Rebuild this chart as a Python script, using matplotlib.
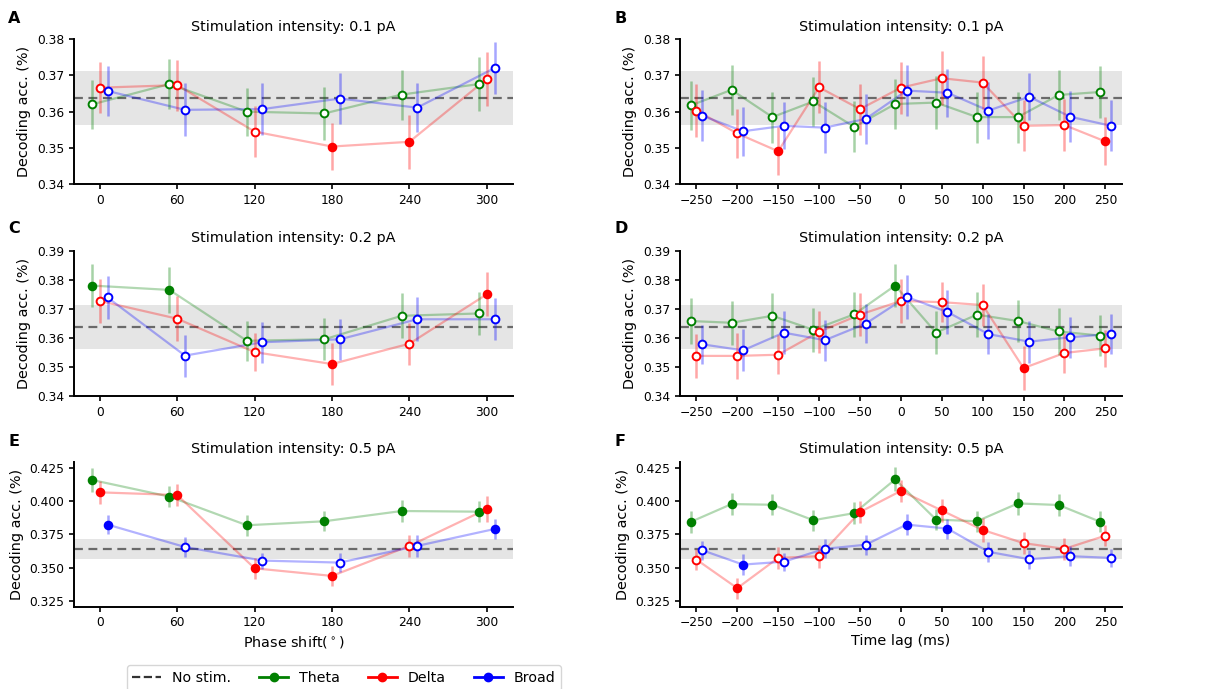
import matplotlib
matplotlib.use("Agg")
import matplotlib.pyplot as plt
from matplotlib.lines import Line2D
import numpy as np

# ---------------- data ----------------
phase_x = [0, 60, 120, 180, 240, 300]
lag_x = [-250, -200, -150, -100, -50, 0, 50, 100, 150, 200, 250]

nostim_mean = 0.3637
nostim_sd = 0.0075

# Panel A (phase, 0.1 pA)
A_theta = [0.3620, 0.3676, 0.3600, 0.3595, 0.3647, 0.3676]
A_delta = [0.3666, 0.3673, 0.3545, 0.3504, 0.3517, 0.3690]
A_broad = [0.3657, 0.3605, 0.3607, 0.3636, 0.3611, 0.3720]
A_theta_err = [0.0067, 0.0070, 0.0066, 0.0072, 0.0069, 0.0074]
A_delta_err = [0.0071, 0.0070, 0.0071, 0.0066, 0.0075, 0.0074]
A_broad_err = [0.0070, 0.0073, 0.0071, 0.0070, 0.0068, 0.0072]
A_theta_sig = [0, 0, 0, 0, 0, 0]
A_delta_sig = [0, 0, 0, 1, 1, 0]
A_broad_sig = [0, 0, 0, 0, 0, 0]

# Panel B (time lag, 0.1 pA)
B_theta = [0.3617, 0.3660, 0.3585, 0.3628, 0.3558, 0.3621, 0.3625, 0.3585, 0.3585, 0.3646, 0.3654]
B_delta = [0.3603, 0.3540, 0.3491, 0.3667, 0.3607, 0.3666, 0.3692, 0.3680, 0.3561, 0.3563, 0.3518]
B_broad = [0.3589, 0.3546, 0.3561, 0.3556, 0.3580, 0.3658, 0.3652, 0.3603, 0.3641, 0.3586, 0.3561]
B_theta_err = [0.0068, 0.0068, 0.0070, 0.0068, 0.0070, 0.0068, 0.0073, 0.0070, 0.0070, 0.0070, 0.0072]
B_delta_err = [0.0072, 0.0068, 0.0066, 0.0072, 0.0070, 0.0072, 0.0075, 0.0072, 0.0070, 0.0072, 0.0066]
B_broad_err = [0.0070, 0.0068, 0.0065, 0.0070, 0.0068, 0.0070, 0.0066, 0.0078, 0.0065, 0.0070, 0.0070]
B_theta_sig = [0] * 11
B_delta_sig = [0, 0, 1, 0, 0, 0, 0, 0, 0, 0, 1]
B_broad_sig = [0] * 11

# Panel C (phase, 0.2 pA)
C_theta = [0.3780, 0.3765, 0.3590, 0.3595, 0.3676, 0.3684]
C_delta = [0.3727, 0.3666, 0.3551, 0.3510, 0.3580, 0.3750]
C_broad = [0.3739, 0.3539, 0.3585, 0.3595, 0.3664, 0.3664]
C_theta_err = [0.0075, 0.0078, 0.0068, 0.0072, 0.0078, 0.0074]
C_delta_err = [0.0075, 0.0078, 0.0066, 0.0072, 0.0072, 0.0075]
C_broad_err = [0.0074, 0.0072, 0.0070, 0.0070, 0.0075, 0.0072]
C_theta_sig = [1, 1, 0, 0, 0, 0]
C_delta_sig = [0, 0, 0, 1, 0, 1]
C_broad_sig = [0, 0, 0, 0, 0, 0]

# Panel D (time lag, 0.2 pA)
D_theta = [0.3658, 0.3652, 0.3676, 0.3628, 0.3681, 0.3780, 0.3618, 0.3680, 0.3658, 0.3622, 0.3608]
D_delta = [0.3538, 0.3538, 0.3542, 0.3621, 0.3680, 0.3727, 0.3723, 0.3713, 0.3496, 0.3548, 0.3564]
D_broad = [0.3578, 0.3557, 0.3618, 0.3592, 0.3649, 0.3741, 0.3689, 0.3613, 0.3587, 0.3602, 0.3614]
D_theta_err = [0.0078, 0.0076, 0.0078, 0.0075, 0.0077, 0.0075, 0.0073, 0.0077, 0.0072, 0.0080, 0.0072]
D_delta_err = [0.0075, 0.0080, 0.0068, 0.0072, 0.0075, 0.0075, 0.0070, 0.0072, 0.0075, 0.0068, 0.0064]
D_broad_err = [0.0068, 0.0072, 0.0075, 0.0070, 0.0068, 0.0075, 0.0075, 0.0070, 0.0072, 0.0070, 0.0068]
D_theta_sig = [0, 0, 0, 0, 0, 1, 0, 0, 0, 0, 0]
D_delta_sig = [0, 0, 0, 0, 0, 0, 0, 0, 1, 0, 0]
D_broad_sig = [0] * 11

# Panel E (phase, 0.5 pA)
E_theta = [0.4158, 0.4033, 0.3818, 0.3848, 0.3925, 0.3920]
E_delta = [0.4065, 0.4045, 0.3495, 0.3438, 0.3663, 0.3940]
E_broad = [0.3823, 0.3655, 0.3553, 0.3538, 0.3663, 0.3790]
E_theta_err = [0.0092, 0.0076, 0.0078, 0.0076, 0.0080, 0.0080]
E_delta_err = [0.0085, 0.0084, 0.0079, 0.0076, 0.0085, 0.0095]
E_broad_err = [0.0074, 0.0075, 0.0060, 0.0072, 0.0080, 0.0075]
E_theta_sig = [1, 1, 1, 1, 1, 1]
E_delta_sig = [1, 1, 1, 1, 0, 1]
E_broad_sig = [1, 0, 0, 0, 0, 1]

# Panel F (time lag, 0.5 pA)
F_theta = [0.3843, 0.3977, 0.3972, 0.3856, 0.3909, 0.4162, 0.3861, 0.3848, 0.3982, 0.3970, 0.3846]
F_delta = [0.3561, 0.3346, 0.3573, 0.3586, 0.3917, 0.4076, 0.3929, 0.3783, 0.3684, 0.3641, 0.3740]
F_broad = [0.3631, 0.3523, 0.3545, 0.3641, 0.3672, 0.3823, 0.3793, 0.3619, 0.3563, 0.3586, 0.3573]
F_theta_err = [0.0083, 0.0085, 0.0080, 0.0078, 0.0082, 0.0090, 0.0080, 0.0080, 0.0085, 0.0085, 0.0080]
F_delta_err = [0.0080, 0.0078, 0.0080, 0.0085, 0.0080, 0.0085, 0.0085, 0.0090, 0.0080, 0.0080, 0.0078]
F_broad_err = [0.0070, 0.0077, 0.0068, 0.0072, 0.0075, 0.0078, 0.0075, 0.0075, 0.0070, 0.0075, 0.0068]
F_theta_sig = [1] * 11
F_delta_sig = [0, 1, 0, 0, 1, 1, 1, 1, 0, 0, 0]
F_broad_sig = [0, 1, 0, 0, 0, 1, 1, 0, 0, 0, 0]

titles = ["Stimulation intensity: 0.1 pA", "Stimulation intensity: 0.1 pA",
          "Stimulation intensity: 0.2 pA", "Stimulation intensity: 0.2 pA",
          "Stimulation intensity: 0.5 pA", "Stimulation intensity: 0.5 pA"]
letters = ["A", "B", "C", "D", "E", "F"]
series_names = ["Theta", "Delta", "Broad"]
series_colors = ["green", "red", "blue"]

# ---------------- figure ----------------
W, H = 1207, 689
fig = plt.figure(figsize=(W / 100, H / 100), dpi=100)
plt.rcParams["font.family"] = "DejaVu Sans"

def ax_rect(left, top, width, height):
    return [left / W, 1 - (top + height) / H, width / W, height / H]

rows_top = [39.0, 250.7, 461.7]
row_h = [145.3, 145.3, 145.0]
col_left = [74.0, 680.0]
col_w = [438.6, 441.7]

panels = [
    (phase_x, [A_theta, A_delta, A_broad], [A_theta_err, A_delta_err, A_broad_err], [A_theta_sig, A_delta_sig, A_broad_sig]),
    (lag_x, [B_theta, B_delta, B_broad], [B_theta_err, B_delta_err, B_broad_err], [B_theta_sig, B_delta_sig, B_broad_sig]),
    (phase_x, [C_theta, C_delta, C_broad], [C_theta_err, C_delta_err, C_broad_err], [C_theta_sig, C_delta_sig, C_broad_sig]),
    (lag_x, [D_theta, D_delta, D_broad], [D_theta_err, D_delta_err, D_broad_err], [D_theta_sig, D_delta_sig, D_broad_sig]),
    (phase_x, [E_theta, E_delta, E_broad], [E_theta_err, E_delta_err, E_broad_err], [E_theta_sig, E_delta_sig, E_broad_sig]),
    (lag_x, [F_theta, F_delta, F_broad], [F_theta_err, F_delta_err, F_broad_err], [F_theta_sig, F_delta_sig, F_broad_sig]),
]

ylims = [(0.34, 0.38), (0.34, 0.38), (0.34, 0.39), (0.34, 0.39), (0.3207, 0.4295), (0.3207, 0.4295)]
yticks = [np.arange(0.34, 0.3801, 0.01), np.arange(0.34, 0.3801, 0.01),
          np.arange(0.34, 0.3901, 0.01), np.arange(0.34, 0.3901, 0.01),
          np.arange(0.325, 0.4251, 0.025), np.arange(0.325, 0.4251, 0.025)]
yfmt = ["%.2f", "%.2f", "%.2f", "%.2f", "%.3f", "%.3f"]

for i, (xs, ys, errs, sigs) in enumerate(panels):
    r, c = divmod(i, 2)
    ax = fig.add_axes(ax_rect(col_left[c], rows_top[r], col_w[c], row_h[r]))
    phase = (c == 0)
    off = 6 if phase else 7
    offsets = [-off, 0, off]
    ax.axhspan(nostim_mean - nostim_sd, nostim_mean + nostim_sd, color="#e5e5e5", zorder=0, lw=0)
    ax.axhline(nostim_mean, ls="--", color="#555555", lw=1.6, alpha=0.85, zorder=1, dashes=(4, 2.5))
    for s in range(3):
        col = series_colors[s]
        xx = np.array(xs) + offsets[s]
        yy = np.array(ys[s])
        ee = np.array(errs[s])
        sg = np.array(sigs[s]).astype(bool)
        ax.plot(xx, yy, color=col, alpha=0.3, lw=1.6, zorder=2)
        ax.errorbar(xx, yy, yerr=ee, fmt="none", ecolor=col, alpha=0.35, elinewidth=1.8, zorder=3)
        ax.plot(xx[sg], yy[sg], "o", color=col, ms=5.6, mec=col, mfc=col, mew=1.3, zorder=5, ls="none")
        ax.plot(xx[~sg], yy[~sg], "o", ms=5.6, mec=col, mfc="white", mew=1.4, zorder=5, ls="none")
    if phase:
        ax.set_xlim(-20, 320)
        ax.set_xticks(phase_x)
    else:
        ax.set_xlim(-270, 270)
        ax.set_xticks(lag_x)
    ax.set_ylim(*ylims[i])
    ax.set_yticks(yticks[i])
    ax.set_yticklabels([yfmt[i] % v for v in yticks[i]])
    for sp in ["top", "right"]:
        ax.spines[sp].set_visible(False)
    for sp in ["left", "bottom"]:
        ax.spines[sp].set_linewidth(1.4)
    ax.tick_params(labelsize=8.8, width=1.2, length=3.5, color="black")
    ax.set_title(titles[i], fontsize=10.4, pad=6)
    ax.set_ylabel("Decoding acc. (%)", fontsize=10.4, labelpad=4)
    if r == 2:
        ax.set_xlabel("Phase shift($^\\circ$)" if phase else "Time lag (ms)", fontsize=10.4, labelpad=3)
    lx = 8 if c == 0 else 614
    ly = [11, 221, 434][r]
    fig.text(lx / W, 1 - ly / H, letters[i], fontsize=11.5, fontweight="bold", va="top", ha="left")

handles = [Line2D([0], [0], color="#333333", ls="--", lw=1.6, label="No stim.")]
for name, col in zip(series_names, series_colors):
    handles.append(Line2D([0], [0], color=col, lw=2, marker="o", ms=6, label=name))
fig.legend(handles=handles, loc="upper left", bbox_to_anchor=(126.7 / W, 1 - 665 / H),
           ncol=4, fontsize=10.2, frameon=True, fancybox=True, borderaxespad=0,
           handlelength=2.0, columnspacing=2.0)

fig.savefig("out.png", dpi=100)
